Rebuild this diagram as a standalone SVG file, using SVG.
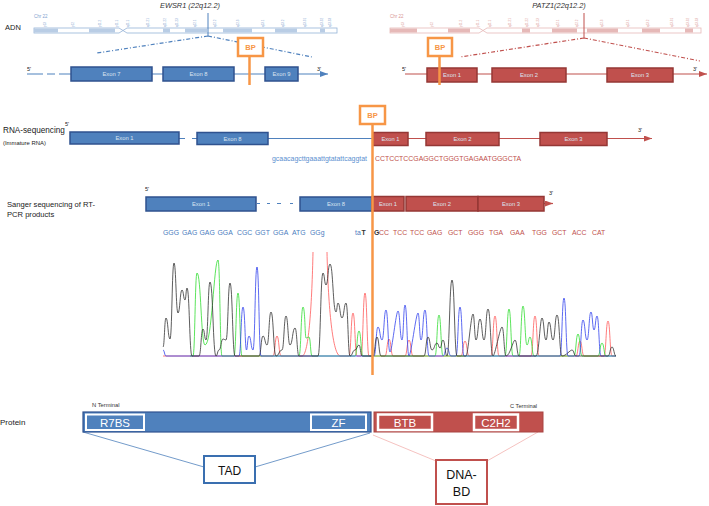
<svg xmlns="http://www.w3.org/2000/svg" width="709" height="506" viewBox="0 0 709 506">
<style>
text{font-family:"Liberation Sans",Arial,sans-serif}
.lbl{font-size:8px;fill:#222}
.title{font-size:7.4px;font-style:italic;fill:#333;text-anchor:middle}
.ex-b{fill:#4f81bd;stroke:#2f528f;stroke-width:1.5}
.ex-r{fill:#c0504d;stroke:#953735;stroke-width:1.5}
.exl{font-size:5.8px;fill:#dbe5f1;text-anchor:middle}
.prime{font-size:5.5px;fill:#222}
.bp{fill:#fff;stroke:#f79646;stroke-width:2.5}
.bpt{font-size:7.5px;font-weight:bold;fill:#f79646;text-anchor:middle}
.lb{stroke:#4f81bd;stroke-width:1.2;fill:none}
.lr{stroke:#c0504d;stroke-width:1.2;fill:none}
.orange{stroke:#f79646;stroke-width:2.5;fill:none}
.bandb{font-size:3px;fill:#7f9fcf}
.bandr{font-size:3px;fill:#d99694}
.cb{fill:#4a7cc0;font-size:6.9px}
.cr{fill:#c0504d;font-size:6.9px}
.cd{fill:#333;font-size:6.9px;font-weight:bold}
.dom{font-size:11.5px;fill:#fff;text-anchor:middle}
.tr{fill:none;stroke-width:0.8;stroke-linejoin:round}
</style>
<defs>
<marker id="ab" markerWidth="8" markerHeight="6" refX="8" refY="3" orient="auto" markerUnits="userSpaceOnUse"><path d="M0,0 L8,3 L0,6 z" fill="#4f81bd"/></marker>
<marker id="ar" markerWidth="8" markerHeight="6" refX="8" refY="3" orient="auto" markerUnits="userSpaceOnUse"><path d="M0,0 L8,3 L0,6 z" fill="#c0504d"/></marker>
</defs>
<rect width="709" height="506" fill="#fff"/>

<!-- Labels -->
<g id="labels">
<text x="5" y="30" class="lbl" style="font-size:7.5px">ADN</text>
<text x="3" y="133" class="lbl" style="font-size:8.2px">RNA-sequencing</text>
<text x="3" y="145" class="lbl" style="font-size:5.9px">(Immature RNA)</text>
<text x="7" y="207" class="lbl" style="font-size:7.6px">Sanger sequencing of RT-</text>
<text x="7" y="217" class="lbl" style="font-size:7.6px">PCR products</text>
<text x="0" y="425" class="lbl">Protein</text>
<text x="190" y="8" class="title">EWSR1 (22q12.2)</text>
<text x="559" y="8" class="title">PATZ1(22q12.2)</text>
</g>

<!-- Ideograms -->
<g id="ideogram-ewsr1">
<text x="34" y="18" style="font-size:4.5px;fill:#7f9fcf">Chr 22</text>
<rect x="34" y="28" width="303" height="5" fill="#fff" stroke="#95b3d7" stroke-width="0.8"/>
<g fill="#b9cde5"><rect x="34" y="28.5" width="24" height="4"/><rect x="89" y="28.5" width="26" height="4"/><rect x="163" y="28.5" width="7" height="4"/><rect x="185" y="28.5" width="22" height="4"/><rect x="223" y="28.5" width="29" height="4"/><rect x="275" y="28.5" width="22" height="4"/><rect x="320" y="28.5" width="5" height="4"/></g>
<rect x="119" y="27" width="8" height="7" fill="#fff"/>
<path d="M119,28 L127,33 M119,33 L127,28" stroke="#95b3d7" stroke-width="0.8"/>
<g class="bandb">
<text transform="translate(46,27) rotate(-90)">p13</text><text transform="translate(74,27) rotate(-90)">p12</text><text transform="translate(101,27) rotate(-90)">p11.2</text><text transform="translate(118,27) rotate(-90)">p11.1</text><text transform="translate(129,27) rotate(-90)">q11.1</text><text transform="translate(149,27) rotate(-90)">q11.21</text><text transform="translate(166,27) rotate(-90)">q11.22</text><text transform="translate(178,27) rotate(-90)">q11.23</text><text transform="translate(196,27) rotate(-90)">q12.1</text><text transform="translate(216,27) rotate(-90)">q12.2</text><text transform="translate(239,27) rotate(-90)">q12.3</text><text transform="translate(264,27) rotate(-90)">q13.1</text><text transform="translate(284,27) rotate(-90)">q13.2</text><text transform="translate(306,27) rotate(-90)">q13.31</text><text transform="translate(323,27) rotate(-90)">q13.32</text><text transform="translate(331,27) rotate(-90)">q13.33</text>
</g>
<line x1="208" y1="13" x2="208" y2="36" stroke="#4f81bd" stroke-width="1"/>
</g>
<g id="ideogram-patz1">
<text x="390" y="18" style="font-size:4.5px;fill:#d99694">Chr 22</text>
<rect x="390" y="28" width="311" height="5" fill="#fff" stroke="#e6b9b8" stroke-width="0.8"/>
<g fill="#e6b9b8"><rect x="390" y="28.5" width="27" height="4"/><rect x="448" y="28.5" width="22" height="4"/><rect x="522" y="28.5" width="8" height="4"/><rect x="552" y="28.5" width="25" height="4"/><rect x="587" y="28.5" width="31" height="4"/><rect x="642" y="28.5" width="18" height="4"/><rect x="685" y="28.5" width="8" height="4"/></g>
<rect x="479" y="27" width="8" height="7" fill="#fff"/>
<path d="M479,28 L487,33 M479,33 L487,28" stroke="#e6b9b8" stroke-width="0.8"/>
<g class="bandr">
<text transform="translate(404,27) rotate(-90)">p13</text><text transform="translate(433,27) rotate(-90)">p12</text><text transform="translate(462,27) rotate(-90)">p11.2</text><text transform="translate(479,27) rotate(-90)">p11.1</text><text transform="translate(491,27) rotate(-90)">q11.1</text><text transform="translate(511,27) rotate(-90)">q11.21</text><text transform="translate(528,27) rotate(-90)">q11.22</text><text transform="translate(539,27) rotate(-90)">q11.23</text><text transform="translate(559,27) rotate(-90)">q12.1</text><text transform="translate(578,27) rotate(-90)">q12.2</text><text transform="translate(603,27) rotate(-90)">q12.3</text><text transform="translate(629,27) rotate(-90)">q13.1</text><text transform="translate(649,27) rotate(-90)">q13.2</text><text transform="translate(673,27) rotate(-90)">q13.31</text><text transform="translate(689,27) rotate(-90)">q13.32</text><text transform="translate(698,27) rotate(-90)">q13.33</text>
</g>
<line x1="584" y1="13" x2="584" y2="38" stroke="#c0504d" stroke-width="1"/>
</g>

<!-- Connectors -->
<g id="connectors">
<path d="M208,36 L97,53 M208,36 L312,57" class="lb" stroke-width="0.9" stroke-dasharray="4 2 1 2"/>
<path d="M584,38 L460,57 M584,38 L700,61" class="lr" stroke-width="0.9" stroke-dasharray="4 2 1 2"/>
<path d="M27,74 H43 M47,74 H55 M59,74 H71" class="lb" stroke-width="1.3"/>
<line x1="71" y1="74" x2="328" y2="74" class="lb" stroke-width="1.3" marker-end="url(#ab)"/>
<line x1="405" y1="74" x2="707" y2="74" class="lr" stroke-width="1.3" marker-end="url(#ar)"/>
<path d="M179,138.5 H185 M192,138.5 H197" class="lb"/>
<line x1="268" y1="138.5" x2="373" y2="138.5" class="lb"/>
<line x1="373" y1="138.5" x2="652" y2="138.5" class="lr" marker-end="url(#ar)"/>
<path d="M257,203.5 H260 M267,203.5 H270 M277,203.5 H281 M290,203.5 H293" class="lb"/>
<line x1="544" y1="203.5" x2="553" y2="203.5" class="lr" marker-end="url(#ar)"/>
<path d="M83,432 L204,467 M255,467 L370,433" stroke="#4f81bd" stroke-width="0.8" fill="none"/>
<path d="M373,435 L436,461 M538,432 L487,461" stroke="#f2b2b0" stroke-width="0.8" fill="none"/>
</g>

<!-- Top row gene models -->
<g id="ewsr1-gene">
<text x="27" y="71" class="prime">5'</text>
<text x="317" y="71" class="prime">3'</text>
<g id="ewsr1-exon7"><rect x="71" y="67" width="81" height="14" class="ex-b"/><text x="111.5" y="76" class="exl">Exon 7</text></g>
<g id="ewsr1-exon8"><rect x="163" y="67" width="71" height="14" class="ex-b"/><text x="198.5" y="76" class="exl">Exon 8</text></g>
<g id="ewsr1-exon9"><rect x="265" y="67" width="33" height="14" class="ex-b"/><text x="281.5" y="76" class="exl">Exon 9</text></g>
</g>
<g id="patz1-gene">
<text x="402" y="71" class="prime">5'</text>
<text x="693" y="71" class="prime">3'</text>
<g id="patz1-exon1"><rect x="427" y="68" width="50" height="14" class="ex-r"/><text x="452" y="77" class="exl">Exon 1</text></g>
<g id="patz1-exon2"><rect x="492" y="68" width="74" height="14" class="ex-r"/><text x="529" y="77" class="exl">Exon 2</text></g>
<g id="patz1-exon3"><rect x="607" y="68" width="66" height="14" class="ex-r"/><text x="640" y="77" class="exl">Exon 3</text></g>
</g>

<!-- RNA-seq row -->
<g id="rna-row">
<text x="65" y="126" class="prime">5'</text>
<text x="638" y="132" class="prime">3'</text>
<g id="rna-exon1"><rect x="70" y="132" width="109" height="12" class="ex-b"/><text x="124.5" y="140" class="exl">Exon 1</text></g>
<g id="rna-exon8"><rect x="197" y="132.5" width="71" height="12" class="ex-b"/><text x="232.5" y="140.5" class="exl">Exon 8</text></g>
<g id="rna-pexon1"><rect x="373" y="132.5" width="35" height="13" class="ex-r"/><text x="390.5" y="141" class="exl">Exon 1</text></g>
<g id="rna-pexon2"><rect x="426" y="132.5" width="73" height="13" class="ex-r"/><text x="462.5" y="141" class="exl">Exon 2</text></g>
<g id="rna-pexon3"><rect x="540" y="132.5" width="67" height="13" class="ex-r"/><text x="573.5" y="141" class="exl">Exon 3</text></g>
<text x="272" y="161" style="font-size:6.8px;fill:#5b8fd0" textLength="95" lengthAdjust="spacingAndGlyphs">gcaacagcttgaaattgtatattcaggtat</text>
<text x="375" y="161" style="font-size:7.8px;fill:#c0504d" textLength="146" lengthAdjust="spacingAndGlyphs">CCTCCTCCGAGGCTGGGTGAGAATGGGCTA</text>
</g>

<!-- Sanger row -->
<g id="sanger-row">
<text x="145" y="191" class="prime">5'</text>
<text x="549" y="195" class="prime">3'</text>
<g id="s-exon1"><rect x="146" y="197" width="110" height="14" class="ex-b"/><text x="201" y="206" class="exl">Exon 1</text></g>
<g id="s-exon8"><rect x="300" y="197" width="72" height="14" class="ex-b"/><text x="336" y="206" class="exl">Exon 8</text></g>
<g id="s-pexon1"><rect x="372" y="196.5" width="32" height="14.5" class="ex-r"/><text x="388" y="205.5" class="exl">Exon 1</text></g>
<g id="s-pexon2"><rect x="406" y="196.5" width="72" height="14.5" class="ex-r"/><text x="442" y="205.5" class="exl">Exon 2</text></g>
<g id="s-pexon3"><rect x="478" y="196.5" width="66" height="14.5" class="ex-r"/><text x="511" y="205.5" class="exl">Exon 3</text></g>
</g>

<!-- Codons -->
<g id="codons">
<text x="163" y="235" class="cb">GGG</text><text x="182" y="235" class="cb">GAG</text><text x="199.5" y="235" class="cb">GAG</text><text x="217.5" y="235" class="cb">GGA</text><text x="237" y="235" class="cb">CGC</text><text x="255" y="235" class="cb">GGT</text><text x="273" y="235" class="cb">GGA</text><text x="292" y="235" class="cb">ATG</text><text x="310" y="235" class="cb">GGg</text>
<text x="355" y="235" class="cb">ta</text><text x="361.5" y="235" class="cd">T</text>
<text x="374" y="235" class="cd">G</text><text x="379" y="235" class="cr">CC</text>
<text x="393" y="235" class="cr">TCC</text><text x="410" y="235" class="cr">TCC</text><text x="427" y="235" class="cr">GAG</text><text x="448" y="235" class="cr">GCT</text><text x="468" y="235" class="cr">GGG</text><text x="489" y="235" class="cr">TGA</text><text x="510" y="235" class="cr">GAA</text><text x="532" y="235" class="cr">TGG</text><text x="552" y="235" class="cr">GCT</text><text x="572" y="235" class="cr">ACC</text><text x="592" y="235" class="cr">CAT</text>
</g>

<!-- Chromatogram -->
<g id="chromatogram">
<path class="tr" stroke="#ff5a5a" d="M163,356 L273,356 C275,356 275,336 277,336 C279,336 279,356 281,356 L302,356 C309,356 312,300 313,252"/>
<path class="tr" stroke="#ff5a5a" d="M327,252 C328,300 332,354 340,356 L349,356 C351,356 351,313 353,313 C355,313 355,356 357,356 L361,356 C363,356 363,293 365,293 C367,293 367,356 369,356 L385,356 C387,356 387,339 389,339 C391,339 391,356 393,356 L405,356 C407,356 407,340 409,340 C411,340 411,356 413,356 L461,356 C463,356 463,341 465,341 C467,341 467,356 469,356 L491,356 C493,356 493,316 495,316 C497,316 497,356 499,356 L531,356 C533,356 533,316 535,316 C537,316 537,356 539,356 L576,356 C578,356 578,341 580,341 C582,341 582,356 584,356 L604,356 C606,356 606,321 608,321 C610,321 610,356 612,356 L616,356"/>
<path class="tr" stroke="#33dd33" d="M190,356 L193,356 C195,356 195,273 197,273 C201,273 201,345 205,345 C212,345 214,260 218,260 C220,260 220,356 222,356 L234,356 C236,356 236,293 238,293 C240,293 240,356 242,356 L299,356 C301,356 301,307 303,307 C305,307 305,338 306,338 C307.5,338 307.5,337 309,337 C310.5,337 310.5,356 312,356 L355,356 C357,356 357,331 359,331 C361,331 361,356 363,356 L435,356 C437,356 437,315 439,315 C441,315 441,356 443,356 L505,356 C507,356 507,309 509,309 C511,309 511,356 513,356 L519,356 C521,356 521,306 523,306 C525,306 525,345 527,345 C528.5,345 528.5,337 530,337 C532,337 532,356 534,356 L574,356 C576,356 576,334 578,334 C580,334 580,356 582,356 L598,356 C600,356 600,343 602,343 C604,343 604,356 606,356 L616,356"/>
<path class="tr" stroke="#3344ee" d="M163,350 C164.5,350 164.5,356 166,356 L239,356 C241,356 241,307 243,307 C245,307 245,350 246.5,350 C247.5,350 247.5,336 249,336 C251,336 251,350 253,350 C255,350 255,267 257,267 C259,267 259,356 261,356 L374,356 C376,356 376,327 378,327 C380,327 380,340 382,340 C384,340 384,310 386,310 C388,310 388,352 390,352 C392,352 396,311 398,311 C400,311 400,340 402,340 C403.5,340 403.5,305 405,305 C407,305 407,356 409,356 C411,356 416,313 418,313 C419.5,313 419.5,340 421,340 C423,340 423,310 425,310 C427,310 427,356 429,356 L443,356 C445,356 445,348 447,348 C449,348 449,356 451,356 L456,356 C458,356 458,307 460,307 C462,307 462,356 464,356 L560,356 C562,356 562,298 564,298 C566,298 566,356 568,356 L579,356 C581,356 581,320 583,320 C585,320 585,340 587,340 C589,340 589,312 591,312 C592.5,312 592.5,330 594,330 C595.5,330 595.5,316 597,316 C599,316 599,356 601,356 L616,356"/>
<path class="tr" stroke="#333" d="M163,347 C164.5,347 164.5,318 166,318 C168,318 168,339 170,339 C172,339 172,263 174,263 C176,263 176,313 178,313 C180,313 180,290 182,290 C183.5,290 183.5,300 185,300 C186,300 186,288 187,288 C189.5,288 189.5,356 192,356 L199,356 C201,356 201,329 203,329 C204.5,329 204.5,340 206,340 C208,340 208,282 210,282 C213,282 213,356 216,356 C217.5,356 217.5,350 219,350 C221,350 221,339 223,339 C224.5,339 224.5,340 226,340 C228,340 228,283 230,283 C232.5,283 232.5,356 235,356 L259,356 C261,356 261,336 263,336 C265,336 265,345 267,345 C269,345 269,312 271,312 C273.5,312 273.5,356 276,356 C279,356 279,350 282,350 C284,350 284,316 286,316 C288,316 288,345 290,345 C292.5,345 292.5,328 295,328 C297,328 297,356 299,356 L318,356 C320.5,356 320.5,273 323,273 C324.5,273 324.5,285 326,285 C328,285 328,264 330,264 C333,264 333,312 336,312 C337,312 337,303 338,303 C340,303 340,318 342,318 C344,318 344,303 346,303 C348,303 348,356 350,356 C352.5,356 352.5,350 355,350 C357,350 357,345 359,345 C360.5,345 360.5,356 362,356 L373,356 C375,356 375,337 377,337 C379,337 379,356 381,356 L424,356 C426,356 426,337 428,337 C430,337 430,350 432,350 C434.5,350 434.5,343 437,343 C438.5,343 438.5,348 440,348 C441.5,348 441.5,340 443,340 C445,340 445,356 447,356 C449.5,356 449.5,280 452,280 C454.5,280 454.5,356 457,356 L466,356 C468,356 471,314 473,314 C474.5,314 474.5,340 476,340 C478,340 478,319 480,319 C482,319 482,340 484,340 C486,340 486,309 488,309 C490.5,309 490.5,356 493,356 C495,356 500,327 502,327 C504,327 504,356 506,356 C510,356 513,340 515,340 C517,340 517,356 519,356 L536,356 C539,356 540,318 542,318 C544,318 544,340 546,340 C547.5,340 547.5,322 549,322 C551,322 551,340 553,340 C555,340 555,315 557,315 C559.5,315 559.5,356 562,356 C566,356 570,350 572,350 C574,350 574,356 576,356 L608,356 C610,356 610,347 612,347 C614,347 614,356 616,356"/>
</g>

<!-- Breakpoints -->
<g id="bp-ewsr1">
<line x1="249.5" y1="56" x2="249.5" y2="85" class="orange"/>
<rect x="238" y="38" width="25" height="18" class="bp"/><text x="250.5" y="50" class="bpt">BP</text>
</g>
<g id="bp-patz1">
<line x1="439.5" y1="56" x2="439.5" y2="85" class="orange"/>
<rect x="428" y="38" width="24" height="18" class="bp"/><text x="440" y="50" class="bpt">BP</text>
</g>
<g id="bp-fusion">
<line x1="372.5" y1="124" x2="372.5" y2="375" class="orange"/>
<rect x="360" y="106" width="25" height="18" class="bp"/><text x="372.5" y="118" class="bpt">BP</text>
</g>

<!-- Protein -->
<g id="protein-ewsr1">
<text x="92" y="407" style="font-size:5.8px;fill:#333">N Terminal</text>
<rect x="83" y="412" width="288" height="20" fill="#4f81bd" stroke="#2f528f" stroke-width="1.2"/>
<g id="dom-r7bs"><rect x="86" y="414.5" width="58" height="15.5" fill="#4f81bd" stroke="#fff" stroke-width="2"/><text x="115" y="426.5" class="dom">R7BS</text></g>
<g id="dom-zf"><rect x="311" y="414.5" width="55" height="15.5" fill="#4f81bd" stroke="#fff" stroke-width="2"/><text x="338.5" y="426.5" class="dom">ZF</text></g>
</g>
<g id="protein-patz1">
<text x="510" y="408" style="font-size:5.7px;fill:#333">C Terminal</text>
<rect x="374" y="412" width="169" height="20" fill="#c0504d" stroke="#a94442" stroke-width="1"/>
<g id="dom-btb"><rect x="378" y="414.5" width="54" height="15.5" fill="#c0504d" stroke="#fff" stroke-width="2.5"/><text x="405" y="426.5" class="dom">BTB</text></g>
<g id="dom-c2h2"><rect x="474" y="414.5" width="44" height="15.5" fill="#c0504d" stroke="#fff" stroke-width="2.5"/><text x="496" y="426.5" class="dom">C2H2</text></g>
</g>
<g id="tad">
<rect x="204" y="456" width="51" height="27" fill="#fff" stroke="#3a6fb0" stroke-width="2"/>
<text x="229.5" y="474.5" style="font-size:12px;fill:#111;text-anchor:middle">TAD</text>
</g>
<g id="dna-bd">
<rect x="436" y="460" width="51" height="44" fill="#fff" stroke="#c0504d" stroke-width="2"/>
<text x="461.5" y="479" style="font-size:12.5px;fill:#111;text-anchor:middle">DNA-</text>
<text x="461.5" y="496" style="font-size:12.5px;fill:#111;text-anchor:middle">BD</text>
</g>
</svg>
